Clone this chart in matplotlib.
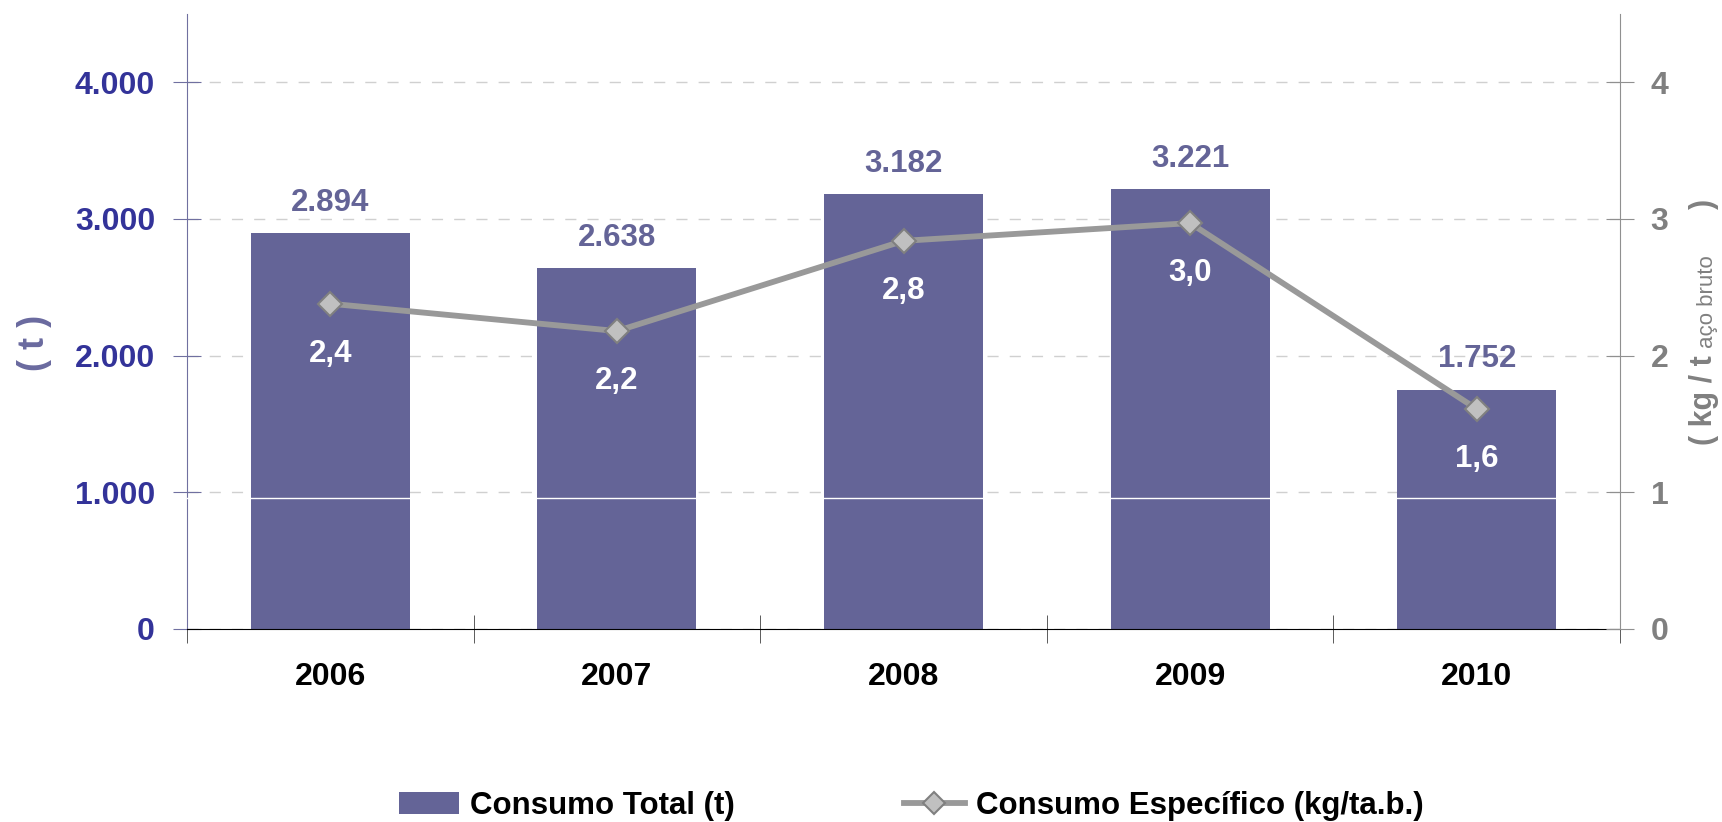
import matplotlib
matplotlib.use("Agg")
import matplotlib.pyplot as plt
from matplotlib.patches import Patch
from matplotlib.lines import Line2D
import numpy as np

# dados
anos = ["2006", "2007", "2008", "2009", "2010"]
consumo_total = [2894, 2638, 3182, 3221, 1752]          # t
consumo_especifico = [2.38, 2.18, 2.84, 2.97, 1.61]     # kg / t aço bruto
legenda = ["Consumo Total (t)", "Consumo Específico (kg/ta.b.)"]

plt.rcParams["font.family"] = ["Liberation Sans", "DejaVu Sans"]
plt.rcParams["font.weight"] = "bold"

COR_BARRA = "#646497"
COR_EIXO_ESQ = "#7070a0"
COR_LINHA = "#999999"
COR_CINZA = "#808080"

W, H = 1722, 822


def milhar(v, pos=None):
    return f"{int(round(v)):,}".replace(",", ".")


fig = plt.figure(figsize=(W / 100, H / 100), dpi=100)
ax = fig.add_axes([0.1086, 0.2348, 0.8322, 0.7482])

x = np.arange(len(anos))
ax.bar(x, consumo_total, width=0.555, color=COR_BARRA, zorder=2)
ax.axhline(962, color="white", lw=1, zorder=3)

ax.set_xlim(-0.5, 4.5)
ax.set_ylim(0, 4500)
ax.set_yticks(range(0, 5000, 1000))
ax.yaxis.set_major_formatter(milhar)
ax.set_axisbelow(True)
ax.grid(axis="y", color="#d0d0d0", linestyle=(0, (8, 8)), lw=1)

ax.set_xticks(x, anos)
ax.set_xticks(np.arange(-0.5, len(anos), 1), minor=True)
ax.tick_params(axis="x", which="major", length=0, pad=24, labelsize=23, labelcolor="black")
ax.tick_params(axis="x", which="minor", length=20, direction="inout", color="#404040")
ax.tick_params(axis="y", length=20, direction="inout", color=COR_EIXO_ESQ,
               labelsize=23, labelcolor="#333399", pad=13)

ax.spines["top"].set_visible(False)
ax.spines["right"].set_visible(False)
ax.spines["left"].set_color(COR_EIXO_ESQ)
ax.spines["bottom"].set_color("black")

for xi, v in zip(x, consumo_total):
    ax.annotate(milhar(v), (xi, v), xytext=(0, 16), textcoords="offset points",
                ha="center", va="baseline", color=COR_BARRA, fontsize=22.5)

# eixo secundário: consumo específico
ax2 = ax.twinx()
ax2.set_ylim(0, 4.5)
ax2.set_yticks(range(5))
ax2.tick_params(axis="y", length=20, direction="inout", color="#909090",
                labelsize=23, labelcolor=COR_CINZA, pad=12)
for s in ["top", "left", "bottom"]:
    ax2.spines[s].set_visible(False)
ax2.spines["right"].set_color("#909090")

ax2.plot(x, consumo_especifico, color=COR_LINHA, lw=4.2, marker="D", ms=12,
         mfc="#c0c0c0", mec=COR_CINZA, mew=1.5, zorder=3)

for xi, v in zip(x, consumo_especifico):
    ax2.annotate(f"{v:.1f}".replace(".", ","), (xi, v), xytext=(0, -42),
                 textcoords="offset points", ha="center", va="baseline",
                 color="white", fontsize=22.5)

# títulos dos eixos
fig.text(35 / W, 1 - 343 / H, "( t )", rotation=90, ha="center", va="center",
         color="#6a6a9f", fontsize=26)

rot = dict(rotation=90, rotation_mode="anchor", ha="left", va="baseline", color=COR_CINZA)
fig.text(1712 / W, 1 - 445 / H, "( kg / t", fontsize=22, **rot)
fig.text(1713 / W, 1 - 348 / H, "aço bruto", fontsize=16, fontweight="normal", **rot)
fig.text(1712 / W, 1 - 209 / H, ")", fontsize=22, **rot)

handles = [
    Patch(facecolor=COR_BARRA, edgecolor="none"),
    Line2D([], [], color=COR_LINHA, lw=4.2, marker="D", ms=11,
           mfc="#c0c0c0", mec=COR_CINZA, mew=1.5),
]
fig.legend(handles, legenda, loc="center", bbox_to_anchor=(0.529, 0.0195), ncol=2,
           frameon=False, prop={"weight": "bold", "size": 22.5},
           handlelength=1.95, handletextpad=0.35, columnspacing=5.4)

fig.savefig("out.png", dpi=100)
